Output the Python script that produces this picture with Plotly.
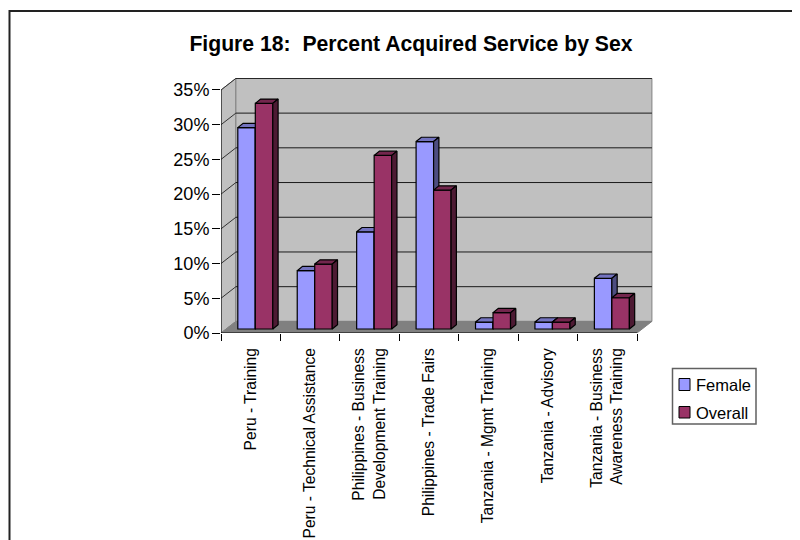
import plotly.graph_objects as go

categories = ["Peru - Training", "Peru - Technical Assistance",
              "Philippines - Business<br>Development Training", "Philippines - Trade Fairs",
              "Tanzania - Mgmt Training", "Tanzania - Advisory",
              "Tanzania - Business<br>Awareness Training"]
female = [29, 8.4, 14, 27, 1, 1, 7.3]
overall = [32.5, 9.35, 25, 20, 2.35, 1, 4.5]
y_ticks = [0, 5, 10, 15, 20, 25, 30, 35]
FEMALE_COL = "#9999FF"
OVERALL_COL = "#993366"

W, H = 800, 540
PAGE = 8     # page margin around the figure
L, R, T, B = 213, 155, 70, 215
UX = 59.43   # pixels per category
UY = 6.943   # pixels per percent
DX, DY = 14.9 / UX, 11.6 / UY   # wall depth
BDX, BDY = 5.3 / UX, 4.3 / UY   # bar depth
FLOOR = 4 / UY
BW = 17.5 / UX
OFF_F, OFF_O = 16.8 / UX, 34.3 / UX
N = len(categories)
xr = [0, (W - L - R) / UX]
yr = [0, (H - T - B) / UY]

def px(x):
    return (x - PAGE - L) / (W - L - R)

def py(y):
    return (H - B - (y - PAGE)) / (H - T - B)

def polys(vals, off, kind):
    xs, ys = [], []
    for i, v in enumerate(vals):
        x0 = i + off
        x1 = x0 + BW
        t = FLOOR + v
        if kind == "top":
            xs += [x0, x0 + BDX, x1 + BDX, x1, x0, None]
            ys += [t, t + BDY, t + BDY, t, t, None]
        else:
            xs += [x1, x1 + BDX, x1 + BDX, x1, x1, None]
            ys += [FLOOR, FLOOR + BDY, t + BDY, t, FLOOR, None]
    return xs, ys

def series(name, vals, off, front, top, side, xa, ya):
    out = [go.Bar(name=name, x=[i for i in range(N)], y=vals, base=FLOOR, width=BW, offset=off,
                  marker=dict(color=front, line=dict(color="#000", width=1.2)),
                  xaxis=xa, yaxis=ya, showlegend=False)]
    for kind, col in (("top", top), ("side", side)):
        xs, ys = polys(vals, off, kind)
        out.append(go.Scatter(x=xs, y=ys, mode="lines", fill="toself", fillcolor=col,
                              line=dict(color="#000", width=1.2), hoverinfo="skip",
                              showlegend=False, xaxis=xa, yaxis=ya))
    return out

fig = go.Figure()
for tr in series("Female", female, OFF_F, FEMALE_COL, "#7373BF", "#4D4D80", "x", "y"):
    fig.add_trace(tr)
for tr in series("Overall", overall, OFF_O, OVERALL_COL, "#73264D", "#4D1A33", "x2", "y2"):
    fig.add_trace(tr)
# axis lines, left unclipped
fig.add_trace(go.Scatter(x=[0, 0, N], y=[35, 0, 0], mode="lines", line=dict(color="#000", width=1),
                         cliponaxis=False, hoverinfo="skip", showlegend=False))

shapes = []
def poly(pts, fill, line="#808080"):
    d = "M" + "L".join(f"{a},{b}" for a, b in pts) + "Z"
    shapes.append(dict(type="path", path=d, xref="x", yref="y", fillcolor=fill,
                       line=dict(color=line, width=1), layer="below"))
poly([(0, 0), (DX, DY), (DX, 35 + DY), (0, 35)], "#C0C0C0")
poly([(DX, DY), (N + DX, DY), (N + DX, 35 + DY), (DX, 35 + DY)], "#C0C0C0")
poly([(0, 0), (N, 0), (N + DX, DY), (DX, DY)], "#808080")
for v in y_ticks[1:]:
    shapes.append(dict(type="line", xref="x", yref="y", x0=DX, x1=N + DX, y0=v + DY, y1=v + DY,
                       line=dict(color="#1a1a1a", width=1), layer="below"))
    shapes.append(dict(type="line", xref="x", yref="y", x0=0, x1=DX, y0=v, y1=v + DY,
                       line=dict(color="#333", width=1), layer="below"))
# outer frame of the picture
shapes.append(dict(type="rect", xref="paper", yref="paper", x0=px(9.5), x1=px(830), y0=py(580), y1=py(11),
                   line=dict(color="#222", width=2), layer="below"))
# legend box and swatches
shapes.append(dict(type="rect", xref="paper", yref="paper", x0=px(672.5), x1=px(756), y0=py(424), y1=py(368.5),
                   line=dict(color="#606060", width=1.5), fillcolor="#fff", layer="below"))
annotations = []
for name, col, y0, y1, yt in (("Female", FEMALE_COL, 378.5, 390.5, 385),
                              ("Overall", OVERALL_COL, 406.5, 418, 413)):
    shapes.append(dict(type="rect", xref="paper", yref="paper", x0=px(679), x1=px(690), y0=py(y1), y1=py(y0),
                       line=dict(color="#000", width=1), fillcolor=col, layer="below"))
    annotations.append(dict(text=name, xref="paper", yref="paper", x=px(695.5), y=py(yt), xanchor="left",
                            yanchor="middle", showarrow=False, font=dict(size=16.5), xshift=-2))

fig.update_layout(
    width=W, height=H, autosize=False, margin=dict(l=L, r=R, t=T, b=B, autoexpand=False),
    paper_bgcolor="#fff", plot_bgcolor="rgba(0,0,0,0)",
    font=dict(family="Liberation Sans, Arial, sans-serif", color="#000"),
    title=dict(text="<b>Figure 18:\u00a0 Percent Acquired Service by Sex</b>", x=(411 - PAGE) / W, xanchor="center",
               y=1 - (44 - PAGE) / H, yanchor="middle", font=dict(size=21.2)),
    barmode="overlay", shapes=shapes, annotations=annotations, showlegend=False,
    xaxis=dict(range=xr, showgrid=False, zeroline=False, showline=False, ticks="", automargin=False,
               tickmode="array", tickvals=[i + 0.5 for i in range(N)], ticktext=categories,
               tickangle=-90, tickfont=dict(size=15.6), ticklen=0, ticklabelstandoff=11,
               minor=dict(ticks="outside", tickmode="array", tickvals=list(range(N + 1)),
                          ticklen=7, tickcolor="#000", tickwidth=1, showgrid=False)),
    yaxis=dict(range=yr, showgrid=False, zeroline=False, showline=False, ticks="outside", ticklen=8,
               automargin=False, ticklabelstandoff=-1, tickcolor="#000", tickmode="array", tickvals=y_ticks,
               ticktext=[f"{v}%" for v in y_ticks], tickfont=dict(size=18)),
    xaxis2=dict(range=xr, overlaying="x", visible=False),
    yaxis2=dict(range=yr, overlaying="y", visible=False),
)
fig.write_html("out.html")
